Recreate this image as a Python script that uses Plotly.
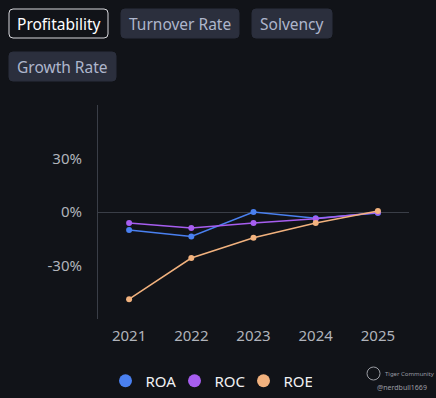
import plotly.graph_objects as go

years = ["2021", "2022", "2023", "2024", "2025"]
roa = [-10.1, -13.7, 0.0, -3.5, -0.5]
roc = [-6.2, -9.0, -6.2, -3.8, -0.3]
roe = [-48.9, -25.8, -14.4, -6.2, 0.5]
series_names = ["ROA", "ROC", "ROE"]
series_colors = ["#4a80f0", "#a75ef0", "#f2b27e"]
tick_vals = [-30, 0, 30]
tick_text = ["-30%", "0%", "30%"]
tabs = ["Profitability", "Turnover Rate", "Solvency", "Growth Rate"]

W, H = 436, 398
L, R, T, B = 98, 27, 105, 79
PW, PH = W - L - R, H - T - B

def px(x):
    return (x - L) / PW

def py(y):
    return 1 - (y - T) / PH

def rrect(x0, y0, x1, y1, r=4):
    pts = [
        f"M {px(x0 + r)},{py(y0)}",
        f"L {px(x1 - r)},{py(y0)}",
        f"Q {px(x1)},{py(y0)} {px(x1)},{py(y0 + r)}",
        f"L {px(x1)},{py(y1 - r)}",
        f"Q {px(x1)},{py(y1)} {px(x1 - r)},{py(y1)}",
        f"L {px(x0 + r)},{py(y1)}",
        f"Q {px(x0)},{py(y1)} {px(x0)},{py(y1 - r)}",
        f"L {px(x0)},{py(y0 + r)}",
        f"Q {px(x0)},{py(y0)} {px(x0 + r)},{py(y0)}",
        "Z",
    ]
    return " ".join(pts)

fig = go.Figure()
for name, vals, col in zip(series_names, [roa, roc, roe], series_colors):
    fig.add_trace(go.Scatter(
        x=years, y=vals, mode="lines+markers", name=name,
        line=dict(color=col, width=1.5), marker=dict(color=col, size=6),
        showlegend=False, hoverinfo="x+y",
    ))
for name, col in zip(series_names, series_colors):
    fig.add_trace(go.Scatter(
        x=[None], y=[None], mode="markers", name=name,
        marker=dict(color=col, size=13), showlegend=True,
    ))

shapes = []
annotations = []
tab_boxes = [(9, 9, 108, 38), (121, 9, 239, 38), (252, 9, 332, 38), (9, 52, 116, 81)]
for i, (label, (x0, y0, x1, y1)) in enumerate(zip(tabs, tab_boxes)):
    sel = i == 0
    shapes.append(dict(
        type="path", xref="paper", yref="paper", path=rrect(x0, y0, x1, y1),
        fillcolor="#111318" if sel else "#2b2f3d",
        line=dict(color="#d8d8dc" if sel else "#2b2f3d", width=1),
        layer="above",
    ))
    annotations.append(dict(
        x=px((x0 + x1) / 2), y=py((y0 + y1) / 2), xref="paper", yref="paper",
        text=label, showarrow=False, xanchor="center", yanchor="middle",
        font=dict(size=15.5, color="#ffffff" if sel else "#aeb6cc"),
    ))

# watermark
annotations.append(dict(x=px(383), y=py(374), xref="paper", yref="paper",
                        text="Tiger Community", showarrow=False, xanchor="left",
                        yanchor="middle", font=dict(size=6, color="#9a9ca3")))
annotations.append(dict(x=px(429), y=py(387), xref="paper", yref="paper",
                        text="@nerdbull1669", showarrow=False, xanchor="right",
                        yanchor="middle", font=dict(size=7, color="#9a9ca3")))
shapes.append(dict(type="circle", xref="paper", yref="paper",
                   x0=px(367), x1=px(380), y0=py(367), y1=py(380),
                   line=dict(color="#9a9ca3", width=1)))

fig.update_layout(
    width=W, height=H,
    margin=dict(l=L, r=R, t=T, b=B, pad=0, autoexpand=False),
    paper_bgcolor="#111318", plot_bgcolor="#111318",
    font=dict(family="Noto Sans, Open Sans, sans-serif", color="#b0b3bb"),
    shapes=shapes, annotations=annotations,
    showlegend=True,
    legend=dict(orientation="h", xref="container", yref="container",
                x=209 / W, xanchor="center", y=1 - 381 / H,
                yanchor="middle", font=dict(size=15, color="#f0f0f2"),
                bgcolor="rgba(0,0,0,0)", itemwidth=30, tracegroupgap=0,
                entrywidth=24, entrywidthmode="pixels"),
    xaxis=dict(type="category", range=[-0.5, 4.5], showgrid=False,
               showline=False, zeroline=False, ticks="",
               tickfont=dict(size=15, color="#b0b3bb"), ticklabelstandoff=6),
    yaxis=dict(range=[-60, 60], tickvals=tick_vals, ticktext=tick_text,
               showgrid=False, zeroline=True, zerolinecolor="#3a3e47",
               zerolinewidth=1, showline=True, linecolor="#3a3e47",
               linewidth=1, ticks="", ticklabelstandoff=12,
               tickfont=dict(size=15, color="#b0b3bb")),
    hovermode="closest",
)

fig.write_html(
    "out.html",
    config={"displayModeBar": False},
    post_script="document.body.style.margin='0';document.body.style.padding='0';document.body.style.background='#111318';",
)
